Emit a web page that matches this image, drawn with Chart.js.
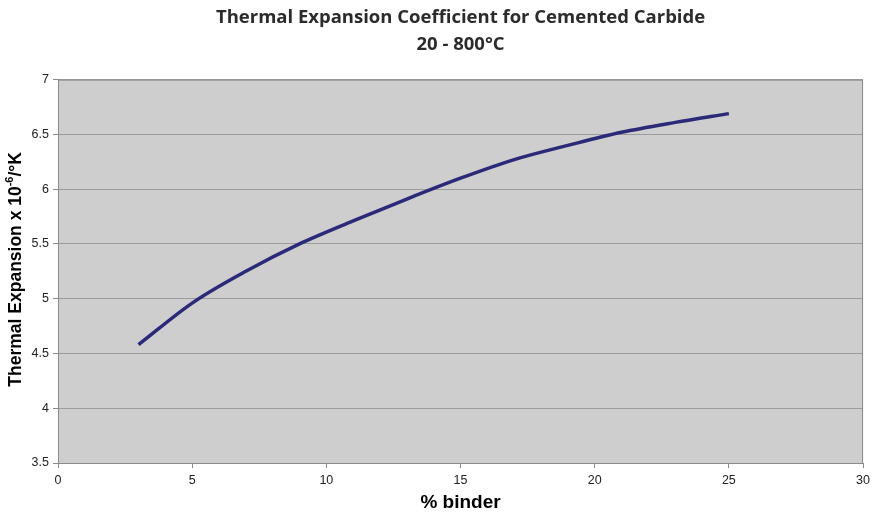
<!DOCTYPE html>
<html>
<head>
<meta charset="utf-8">
<script src="https://cdn.jsdelivr.net/npm/chart.js@4"></script>
<style>
  html, body { margin: 0; padding: 0; background: #fff; }
  #wrap { width: 875px; height: 514px; }
</style>
</head>
<body>
<div id="wrap"><canvas id="expChart" width="875" height="514"></canvas></div>
<script>
// values
const binder = [3, 5, 7, 9, 11, 13, 15, 17, 19, 21, 23, 25];
const expansion = [4.58, 4.96, 5.25, 5.5, 5.71, 5.91, 6.1, 6.27, 6.4, 6.52, 6.61, 6.69];
const xTicks = [0, 5, 10, 15, 20, 25, 30];
const yTicks = [3.5, 4, 4.5, 5, 5.5, 6, 6.5, 7];

const titleLines = ["Thermal Expansion Coefficient for Cemented Carbide", "20 - 800\u00B0C"];

// gray plot area + frame
const plotBg = {
    id: "plotBg",
    beforeDraw(chart) {
        const a = chart.chartArea;
        const ctx = chart.ctx;
        ctx.save();
        ctx.fillStyle = "#cecece";
        ctx.fillRect(a.left, a.top, a.right - a.left, a.bottom - a.top);
        ctx.restore();
    },
    beforeDatasetsDraw(chart) {
        const a = chart.chartArea;
        const ctx = chart.ctx;
        ctx.save();
        ctx.strokeStyle = "#8a8a8a";
        ctx.lineWidth = 1;
        ctx.strokeRect(a.left + 0.5, a.top + 0.5, a.right - a.left - 1, a.bottom - a.top);
        ctx.restore();
    }
};

// y axis title with a real superscript
const yTitle = {
    id: "yTitle",
    afterDraw(chart) {
        const a = chart.chartArea;
        const ctx = chart.ctx;
        const main = "Thermal Expansion x 10";
        const sup = "-6";
        const tail = "/\u00B0K";
        const big = "bold 17.5px 'Liberation Sans', Arial, sans-serif";
        const small = "bold 11px 'Liberation Sans', Arial, sans-serif";
        ctx.save();
        ctx.translate(16, (a.top + a.bottom) / 2 - 2);
        ctx.rotate(-Math.PI / 2);
        ctx.fillStyle = "#000";
        ctx.textBaseline = "middle";
        ctx.font = big;
        const w1 = ctx.measureText(main).width;
        const w3 = ctx.measureText(tail).width;
        ctx.font = small;
        const w2 = ctx.measureText(sup).width;
        let x = -(w1 + w2 + w3) / 2;
        ctx.font = big;
        ctx.fillText(main, x, 0);
        x += w1;
        ctx.font = small;
        ctx.fillText(sup, x, -6);
        x += w2;
        ctx.font = big;
        ctx.fillText(tail, x, 0);
        ctx.restore();
    }
};

const ctx = document.getElementById("expChart").getContext("2d");
new Chart(ctx, {
    type: "line",
    data: {
        datasets: [{
            data: binder.map((b, i) => ({ x: b, y: expansion[i] })),
            borderColor: "#2c2a78",
            borderWidth: 3.5,
            pointRadius: 0,
            cubicInterpolationMode: "monotone",
            fill: false
        }]
    },
    options: {
        responsive: false,
        animation: false,
        layout: { padding: { left: 0, right: 11, top: 0, bottom: 0 } },
        plugins: {
            legend: { display: false },
            tooltip: { enabled: false },
            title: {
                display: true,
                fullSize: false,
                text: titleLines,
                color: "#2b2b2b",
                font: { family: "'Open Sans', sans-serif", size: 18.5, weight: "bold", lineHeight: 1.45 },
                padding: { top: 4, bottom: 22 }
            }
        },
        scales: {
            x: {
                type: "linear",
                min: 0,
                max: 30,
                afterBuildTicks(scale) { scale.ticks = xTicks.map(v => ({ value: v })); },
                afterFit(scale) { scale.height = 51; },
                grid: { drawOnChartArea: false, drawTicks: true, tickLength: 5, color: "#8a8a8a" },
                border: { display: true, color: "#8a8a8a" },
                ticks: {
                    color: "#222",
                    padding: 5,
                    callback: v => String(v),
                    font: { family: "'Liberation Sans', Arial, sans-serif", size: 12.5 }
                },
                title: {
                    display: true,
                    text: "% binder",
                    color: "#000",
                    padding: { top: 4, bottom: 0 },
                    font: { family: "'Liberation Sans', Arial, sans-serif", size: 19, weight: "bold" }
                }
            },
            y: {
                min: 3.5,
                max: 7,
                afterBuildTicks(scale) { scale.ticks = yTicks.map(v => ({ value: v })); },
                afterFit(scale) { scale.width = 58; },
                grid: { color: "#9c9c9c", tickColor: "#8a8a8a", tickLength: 5 },
                border: { display: true, color: "#8a8a8a" },
                ticks: {
                    color: "#222",
                    padding: 4,
                    callback: v => String(v),
                    font: { family: "'Liberation Sans', Arial, sans-serif", size: 12.5 }
                }
            }
        }
    },
    plugins: [plotBg, yTitle]
});
</script>
</body>
</html>
